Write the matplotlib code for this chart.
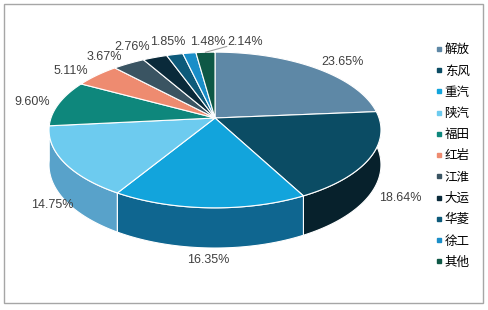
import numpy as np
import matplotlib
matplotlib.use("Agg")
import matplotlib.pyplot as plt
from matplotlib.patches import Polygon, Rectangle
from matplotlib.lines import Line2D

# data
brands = ["解放", "东风", "重汽", "陕汽", "福田", "红岩", "江淮", "大运", "华菱", "徐工", "其他"]
shares = [23.65, 18.64, 16.35, 14.75, 9.60, 5.11, 3.67, 2.76, 1.85, 1.48, 2.14]

# styles
top_colors = ["#5E88A6", "#0B4C64", "#12A4DC", "#6DCBEF", "#0E877C", "#EE8B70",
              "#3A5462", "#0A2A3A", "#0D5A7A", "#1A8EC8", "#0E5846"]
side_colors = ["#3F6178", "#07212C", "#0F6690", "#58A2CA", "#0A6A62", "#B8654F",
               "#2A3D48", "#061C28", "#093F56", "#126690", "#093E31"]
label_nudge = [(10, 1), (4, -1), (0, 0), (13, 0), (0, 1), (-5, 1),
               (-9, 1), (-12, -2), (0, -4), (23, -2), (41, -1)]

# pseudo-3D geometry in pixel units
cx, cy = 215, 118
A, B, k = 164, 76, 0.154
T = 34


def proj(theta, r=1.0, drop=0.0):
    u = r * np.sin(theta)
    v = -r * np.cos(theta)
    d = 1 - k * v
    return cx + A * u / d, cy + (B * v + drop) / d


fig = plt.figure(figsize=(4.89, 3.10), dpi=100)
ax = fig.add_axes([0, 0, 1, 1])
ax.set_xlim(0, 489)
ax.set_ylim(310, 0)
ax.axis("off")

ax.add_patch(Rectangle((3.5, 3.5), 479, 299, fill=False, edgecolor="#A6A6A6", lw=1))

frac = np.array(shares) / sum(shares)
edges = np.concatenate([[0], np.cumsum(frac)]) * 2 * np.pi

# side walls, back first
order = np.argsort([-np.cos((edges[i] + edges[i + 1]) / 2) for i in range(len(shares))])
for i in order:
    t = np.linspace(edges[i], edges[i + 1], 60)
    xt, yt = proj(t)
    xb, yb = proj(t, drop=T)
    pts = np.column_stack([np.concatenate([xt, xb[::-1]]), np.concatenate([yt, yb[::-1]])])
    ax.add_patch(Polygon(pts, closed=True, facecolor=side_colors[i], edgecolor="white", lw=0.8))

# top faces
for i in range(len(shares)):
    t = np.linspace(edges[i], edges[i + 1], 60)
    xt, yt = proj(t)
    pts = np.column_stack([np.concatenate([[cx], xt]), np.concatenate([[cy], yt])])
    ax.add_patch(Polygon(pts, closed=True, facecolor=top_colors[i], edgecolor="white", lw=0.8))

# labels
for i, s in enumerate(shares):
    m = (edges[i] + edges[i + 1]) / 2
    u, v = np.sin(m), -np.cos(m)
    x, y = proj(m, 1.05, T if v > 0 else 0)
    x += 20 * u + label_nudge[i][0]
    y += 6 * v + label_nudge[i][1]
    ax.text(x, y, f"{s:.2f}%", ha="center", va="center", fontsize=9,
            family=["Liberation Sans", "DejaVu Sans"], color="#404040")
    if i == len(shares) - 1:
        ex, ey = proj(m, 1.0)
        ax.plot([ex, x - 18], [ey, y + 4], color="#A0A0A0", lw=0.8)

handles = [Line2D([], [], ls="none", marker="s", markersize=3.2, color=c) for c in top_colors]
leg = fig.legend(handles, brands, loc="upper left", bbox_to_anchor=(429 / 489, 1 - 37 / 310),
                 frameon=False, handlelength=0.6, handletextpad=0.15,
                 labelspacing=0.66, borderpad=0,
                 prop={"family": ["Noto Sans CJK SC", "DejaVu Sans"], "size": 9})

fig.savefig("out.png", dpi=100)
